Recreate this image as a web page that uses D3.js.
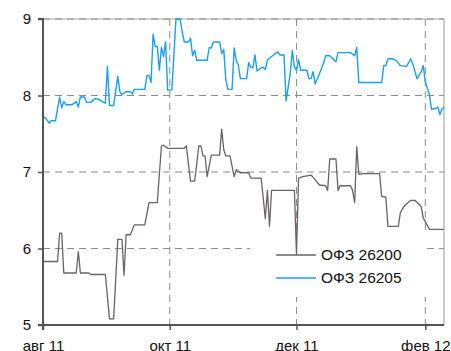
<!DOCTYPE html>
<html>
<head>
<meta charset="utf-8">
<script src="https://cdn.jsdelivr.net/npm/d3@7"></script>
<style>
  body { margin: 0; background: #fff; }
  svg { display: block; font-family: "Liberation Sans", Arial, sans-serif; }
</style>
</head>
<body>
<div id="chart"></div>
<script>
// ОФЗ 26200
const dates26200 = ["2011-08-01","2011-08-08","2011-08-09","2011-08-10","2011-08-11","2011-08-17","2011-08-18","2011-08-19","2011-08-23","2011-08-24","2011-08-31",
  "2011-09-02","2011-09-04","2011-09-06","2011-09-08","2011-09-09","2011-09-10","2011-09-12","2011-09-14","2011-09-19","2011-09-21","2011-09-25","2011-09-27","2011-09-28","2011-09-30",
  "2011-10-08","2011-10-09","2011-10-11","2011-10-13","2011-10-15","2011-10-16","2011-10-17","2011-10-18","2011-10-19","2011-10-21","2011-10-25","2011-10-26","2011-10-27","2011-10-28","2011-10-30",
  "2011-11-01","2011-11-02","2011-11-03","2011-11-04","2011-11-08","2011-11-09","2011-11-14","2011-11-16","2011-11-17","2011-11-18","2011-11-19","2011-11-30",
  "2011-12-01","2011-12-02","2011-12-04","2011-12-08","2011-12-10","2011-12-12","2011-12-15","2011-12-16","2011-12-17","2011-12-20","2011-12-21","2011-12-22","2011-12-27","2011-12-28","2011-12-29","2011-12-30","2011-12-31",
  "2012-01-02","2012-01-10","2012-01-11","2012-01-13","2012-01-14","2012-01-19","2012-01-20","2012-01-22","2012-01-25","2012-01-27","2012-01-30","2012-01-31","2012-02-03","2012-02-10"];
const values26200 = [5.83,5.83,6.20,6.20,5.68,5.68,5.96,5.68,5.68,5.66,5.66,
  5.08,5.08,6.12,6.12,5.65,6.18,6.18,6.31,6.31,6.60,6.60,7.34,7.35,7.31,
  7.31,7.34,6.88,6.88,7.34,7.34,7.21,7.21,6.94,7.22,7.22,7.56,7.29,7.21,7.21,
  6.94,7.03,7.01,6.99,6.99,6.92,6.92,6.39,6.76,6.29,6.76,6.76,
  5.92,6.92,6.94,6.96,6.90,6.83,6.82,6.76,7.17,7.17,6.76,6.82,6.82,6.76,6.60,7.33,6.97,
  6.98,6.98,6.68,6.67,6.29,6.29,6.47,6.56,6.63,6.63,6.55,6.40,6.25,6.25];

// ОФЗ 26205
const dates26205 = ["2011-08-01","2011-08-02","2011-08-04","2011-08-05","2011-08-07","2011-08-09","2011-08-10","2011-08-11","2011-08-12","2011-08-15","2011-08-17","2011-08-18","2011-08-19","2011-08-21","2011-08-22","2011-08-24","2011-08-26","2011-08-28","2011-08-30","2011-08-31",
  "2011-09-01","2011-09-02","2011-09-04","2011-09-06","2011-09-07","2011-09-08","2011-09-10","2011-09-12","2011-09-13","2011-09-14","2011-09-19","2011-09-20","2011-09-21","2011-09-22","2011-09-23","2011-09-24","2011-09-25","2011-09-26","2011-09-27","2011-09-28","2011-09-29","2011-09-30",
  "2011-10-02","2011-10-04","2011-10-06","2011-10-07","2011-10-08","2011-10-10","2011-10-11","2011-10-12","2011-10-13","2011-10-14","2011-10-19","2011-10-20","2011-10-21","2011-10-22","2011-10-25","2011-10-26","2011-10-27","2011-10-28","2011-10-29","2011-10-31",
  "2011-11-01","2011-11-02","2011-11-03","2011-11-04","2011-11-07","2011-11-08","2011-11-09","2011-11-10","2011-11-11","2011-11-12","2011-11-14","2011-11-15","2011-11-16","2011-11-17","2011-11-19","2011-11-22","2011-11-23","2011-11-25","2011-11-26","2011-11-28","2011-11-29","2011-11-30",
  "2011-12-01","2011-12-02","2011-12-03","2011-12-06","2011-12-07","2011-12-08","2011-12-09","2011-12-10","2011-12-12","2011-12-14","2011-12-15","2011-12-17","2011-12-20","2011-12-21","2011-12-23","2011-12-27","2011-12-29","2011-12-30","2011-12-31",
  "2012-01-11","2012-01-12","2012-01-13","2012-01-14","2012-01-16","2012-01-18","2012-01-20","2012-01-23","2012-01-25","2012-01-26","2012-01-28","2012-01-30","2012-01-31",
  "2012-02-01","2012-02-03","2012-02-04","2012-02-06","2012-02-07","2012-02-08","2012-02-09","2012-02-10"];
const values26205 = [7.72,7.71,7.64,7.67,7.67,7.98,7.84,7.92,7.88,7.88,7.92,7.85,7.98,7.98,7.91,7.91,7.96,7.95,7.91,7.90,
  8.38,7.87,7.87,8.25,8.05,8.01,8.05,8.05,8.02,8.08,8.08,8.26,8.26,8.17,8.80,8.64,8.64,8.33,8.63,8.51,8.70,8.07,
  8.07,9.00,9.00,8.83,8.70,8.70,8.75,8.52,8.59,8.46,8.46,8.63,8.62,8.70,8.70,8.55,8.60,8.20,8.08,8.08,
  8.62,8.46,8.40,8.22,8.22,8.43,8.37,8.36,8.53,8.32,8.36,8.37,8.34,8.46,8.51,8.57,8.53,8.53,7.93,8.29,8.59,8.37,
  8.33,8.47,8.33,8.33,8.22,8.22,8.31,8.15,8.28,8.42,8.52,8.52,8.44,8.56,8.56,8.56,8.52,8.63,8.17,
  8.17,8.39,8.39,8.48,8.48,8.46,8.39,8.38,8.48,8.41,8.22,8.31,8.39,
  8.18,8.01,7.82,7.83,7.85,7.75,7.82,7.85];

const yTicks = [5, 6, 7, 8, 9];
const xTickDates = ["2011-08-01", "2011-10-01", "2011-12-01", "2012-02-01"];
const xTickLabels = ["авг 11", "окт 11", "дек 11", "фев 12"];
const seriesNames = ["ОФЗ 26200", "ОФЗ 26205"];
const seriesColors = ["#6b6264", "#1a9ef2"];

function drawChart(containerId) {
  const margin = { top: 19, right: 7, bottom: 26, left: 43 };
  const width = 451 - margin.left - margin.right, height = 351 - margin.top - margin.bottom;
  const parse = d3.timeParse("%Y-%m-%d");

  const svg = d3.select(containerId)
    .append("svg")
    .attr("width", 451)
    .attr("height", 351)
    .append("g")
    .attr("transform", `translate(${margin.left},${margin.top})`);

  const x = d3.scaleTime().domain([parse("2011-08-01"), parse("2012-02-10")]).range([0, width]);
  const y = d3.scaleLinear().domain([5, 9]).range([height, 0]);

  const series = [
    dates26200.map((d, i) => ({ date: parse(d), value: values26200[i] })),
    dates26205.map((d, i) => ({ date: parse(d), value: values26205[i] }))
  ];

  svg.append("clipPath").attr("id", "clip")
    .append("rect").attr("x", 0).attr("y", -1).attr("width", width).attr("height", height + 1);

  // рамка сверху и справа
  svg.append("path")
    .attr("d", `M0,${y(9)}H${width}V${height}`)
    .attr("fill", "none").attr("stroke", "#aaa").attr("stroke-width", 1.2);

  // сетка
  svg.selectAll(".hgrid").data(yTicks.slice(1)).enter().append("line")
    .attr("x1", 0).attr("x2", width)
    .attr("y1", d => y(d)).attr("y2", d => y(d))
    .attr("stroke", "#8a8a8a").attr("stroke-dasharray", "7,5");
  svg.selectAll(".vgrid").data(xTickDates.slice(1)).enter().append("line")
    .attr("x1", d => x(parse(d))).attr("x2", d => x(parse(d)))
    .attr("y1", 0).attr("y2", height)
    .attr("stroke", "#8a8a8a").attr("stroke-dasharray", "7,5");

  // фон легенды
  svg.append("rect")
    .attr("x", 207).attr("y", 215).attr("width", 177).attr("height", 63)
    .attr("fill", "#fff");

  const line = d3.line().x(d => x(d.date)).y(d => y(d.value));
  svg.selectAll(".series").data(series).enter().append("path")
    .attr("clip-path", "url(#clip)")
    .attr("d", line)
    .attr("fill", "none")
    .attr("stroke", (d, i) => seriesColors[i])
    .attr("stroke-width", (d, i) => i === 1 ? 1.4 : 1.3)
    .attr("stroke-linejoin", "round");

  // оси
  const yAxis = svg.append("g")
    .call(d3.axisLeft(y).tickValues(yTicks).tickFormat(d3.format("d")).tickSize(5).tickPadding(7));
  const xAxis = svg.append("g").attr("transform", `translate(0,${height})`)
    .call(d3.axisBottom(x).tickValues(xTickDates.map(parse)).tickFormat((d, i) => xTickLabels[i]).tickSize(5).tickPadding(10));
  [yAxis, xAxis].forEach(a => {
    a.select(".domain").attr("stroke", "#555").attr("stroke-width", 2);
    a.selectAll(".tick line").attr("stroke", "#555").attr("stroke-width", 1.5);
    a.selectAll("text").attr("fill", "#111").style("font-size", "15px").style("font-family", "Liberation Sans, Arial, sans-serif");
  });
  yAxis.select(".domain").attr("d", `M-5,${height}H0V0H-5`);
  xAxis.select(".domain").attr("d", `M0,5V0H${width}`);

  // легенда
  const legend = svg.selectAll(".legend").data(seriesNames).enter().append("g")
    .attr("transform", (d, i) => `translate(233,${236 + i * 23})`);
  legend.append("line")
    .attr("x1", 0).attr("x2", 40)
    .attr("stroke", (d, i) => seriesColors[i]).attr("stroke-width", 1.4);
  legend.append("text")
    .attr("x", 45).attr("dy", "0.35em")
    .text(d => d)
    .style("font-size", "15.5px")
    .attr("fill", "#111");
}

drawChart("#chart");
</script>
</body>
</html>
